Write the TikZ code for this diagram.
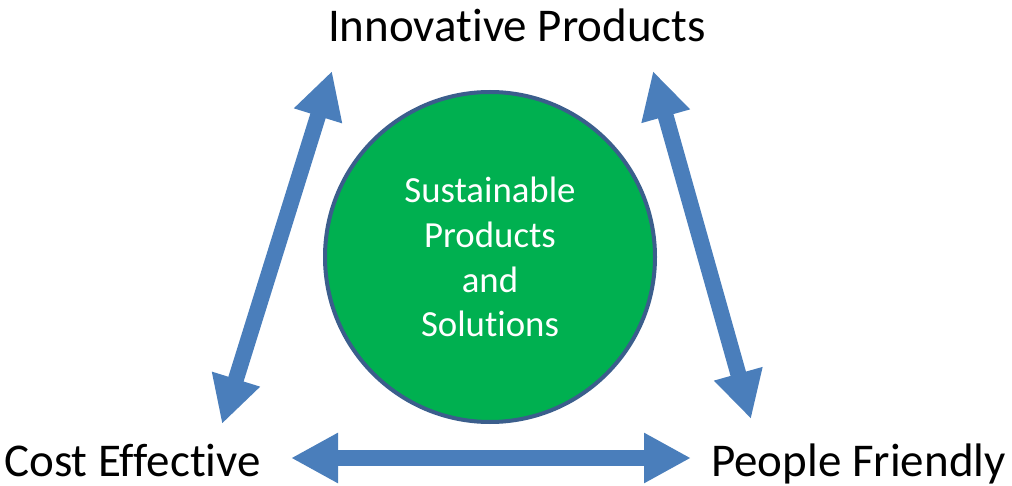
\documentclass[tikz,border=0pt]{standalone}
\usepackage{fontspec}
\setmainfont{Carlito}[Ligatures={NoCommon}]
\usetikzlibrary{arrows.meta}
\definecolor{arrowblue}{HTML}{4A7EBB}
\definecolor{circgreen}{HTML}{00B050}
\definecolor{circedge}{HTML}{3B5E8C}
\tikzset{
  dblarrow/.style={draw=arrowblue, line width=16pt,
    {Triangle[width=47pt,length=47pt]}-{Triangle[width=47pt,length=47pt]}},
  outerlabel/.style={font=\fontsize{47}{56}\selectfont, text=black, inner sep=0pt},
  hub/.style={circle, fill=circgreen, draw=circedge, line width=4pt,
    minimum size=330pt, inner sep=0pt},
  hubtext/.style={font=\fontsize{36.8}{44.7}\selectfont, text=white, align=center, inner sep=0pt}
}
\begin{document}
\begin{tikzpicture}[x=1pt,y=-1pt]
\useasboundingbox (0,0) rectangle (1012,486);
% central circle
\node[hub] (hubc) at (490,257) {};
\node[hubtext, anchor=base] (hubt) at (490,337)
  {Sustainable\\Products\\and\\Solutions};
% labels
\node[outerlabel, anchor=base] (innov) at (517,42) {Innovative Products};
\node[outerlabel, anchor=base west, text depth=0pt] (cost) at (4,476.5) {Cost Effective};
\node[outerlabel, anchor=base west, text depth=8.5pt] (people) at (711,476.5) {People Friendly};
% arrow end points
\coordinate (lt) at (332,71);
\coordinate (lb) at (222,424);
\coordinate (rt) at (653,71);
\coordinate (rb) at (751,419);
\coordinate (bl) at (291,458);
\coordinate (br) at (691,458);
\draw[dblarrow] (lt) -- (lb);
\draw[dblarrow] (rt) -- (rb);
\draw[dblarrow] (bl) -- (br);
\end{tikzpicture}
\end{document}
